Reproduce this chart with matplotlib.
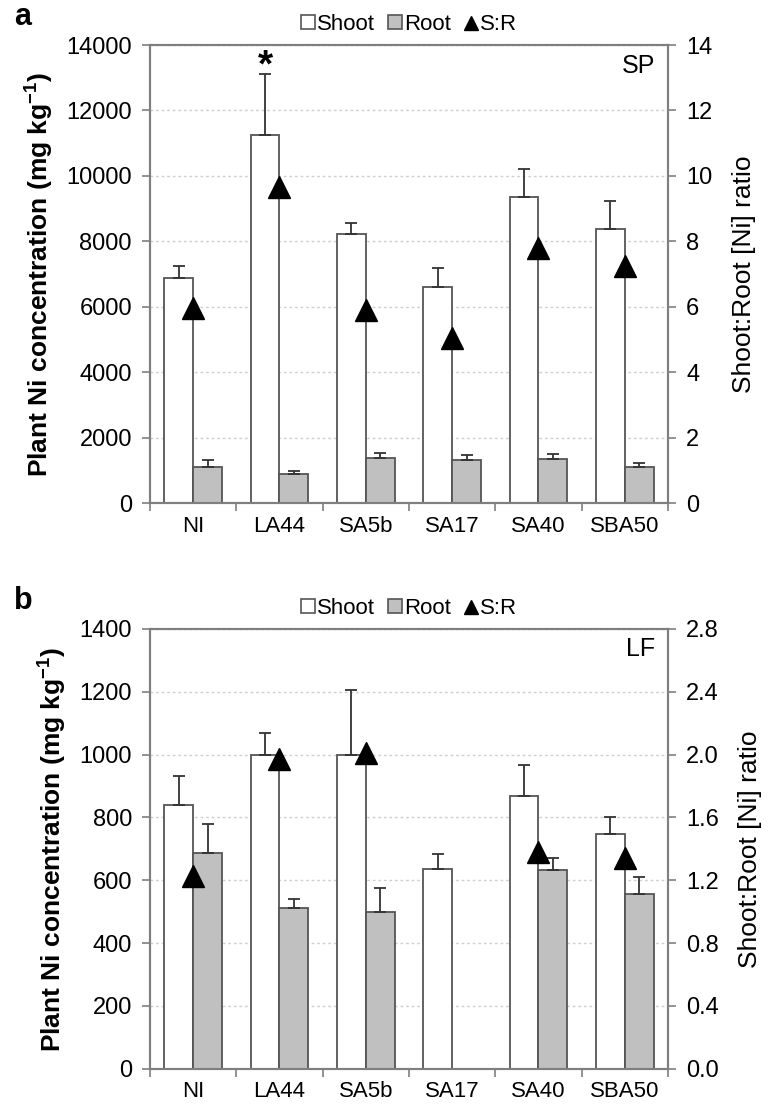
import numpy as np
import matplotlib
matplotlib.use('Agg')
from matplotlib import pyplot as plt
from matplotlib.patches import Patch
from matplotlib.lines import Line2D

plt.rcParams['font.family'] = ['Liberation Sans', 'DejaVu Sans']
plt.rcParams['mathtext.fontset'] = 'custom'
plt.rcParams['mathtext.rm'] = 'Liberation Sans'
plt.rcParams['mathtext.bf'] = 'Liberation Sans:bold'

categories = ['NI', 'LA44', 'SA5b', 'SA17', 'SA40', 'SBA50']

# panel a - SP
sp_shoot = [6890, 11240, 8210, 6600, 9360, 8390]
sp_shoot_err = [370, 1870, 360, 570, 865, 845]
sp_root = [1100, 875, 1385, 1310, 1355, 1090]
sp_root_err = [210, 100, 150, 145, 140, 120]
sp_ratio = [5.95, 9.65, 5.89, 5.04, 7.81, 7.24]

# panel b - LF (no root / ratio for SA17)
lf_shoot = [840, 998, 998, 636, 868, 747]
lf_shoot_err = [92, 71, 207, 48, 98, 53]
lf_root = [686, 511, 500, np.nan, 632, 557]
lf_root_err = [93, 29, 74, np.nan, 39, 52]
lf_ratio = [1.23, 1.97, 2.01, np.nan, 1.38, 1.34]

spine_c = '#7f7f7f'
edge_c = '#555555'
root_c = '#c0c0c0'
fs = 17

fig = plt.figure(figsize=(7.82, 11.07), dpi=100)

def panel(rect, shoot, shoot_err, root, root_err, ratio, ymax, ystep, rmax, rstep, rfmt, tag, letter, star=None):
    ax = fig.add_axes(rect)
    x = np.arange(len(categories))
    w = 0.335
    ax.bar(x - w/2, shoot, w, color='white', edgecolor=edge_c, linewidth=1.3, zorder=2)
    ax.bar(x + w/2, root, w, color=root_c, edgecolor=edge_c, linewidth=1.3, zorder=2)
    ax.errorbar(x - w/2, shoot, yerr=[np.zeros(len(shoot)), shoot_err], fmt='none',
                ecolor='#333333', elinewidth=1.3, capsize=4, capthick=1.3, zorder=3)
    ax.errorbar(x + w/2, root, yerr=[np.zeros(len(root)), root_err], fmt='none',
                ecolor='#333333', elinewidth=1.3, capsize=4, capthick=1.3, zorder=3)
    ax.set_xlim(-0.5, len(categories) - 0.5)
    ax.set_ylim(0, ymax)
    ax.set_yticks(np.arange(0, ymax + ystep/2, ystep))
    ax.yaxis.grid(True, linestyle=(0, (2, 2)), color='#d0d0d0', linewidth=1)
    ax.set_axisbelow(True)
    ax.set_xticks(x)
    ax.set_xticklabels(categories)
    ax.set_xticks(np.arange(-0.5, len(categories)), minor=True)
    ax.tick_params(axis='x', which='major', length=0, pad=9, labelsize=fs - 1)
    ax.tick_params(axis='x', which='minor', length=6, width=1.2, color=spine_c)
    ax.tick_params(axis='y', length=6, width=1.2, color=spine_c, labelsize=fs, pad=7)
    for s in ax.spines.values():
        s.set_color(spine_c)
        s.set_linewidth(1.5)
    ax.set_ylabel(r'Plant Ni concentration (mg kg$^{\mathbf{-1}}$)', fontsize=19,
                  fontweight='bold', labelpad=8)

    ax2 = ax.twinx()
    ax2.plot(x, ratio, linestyle='none', marker='^', markersize=16, color='black', zorder=4)
    ax2.set_ylim(0, rmax)
    ax2.set_yticks(np.arange(0, rmax + rstep/2, rstep))
    ax2.set_yticklabels([rfmt % v for v in np.arange(0, rmax + rstep/2, rstep)])
    ax2.tick_params(axis='y', length=6, width=1.2, color=spine_c, labelsize=fs, pad=7)
    for s in ax2.spines.values():
        s.set_color(spine_c)
        s.set_linewidth(1.5)
    ax2.set_ylabel('Shoot:Root [Ni] ratio', fontsize=19, labelpad=14)

    ax.text(0.975, 0.955, tag, transform=ax.transAxes, ha='right', va='center', fontsize=18)
    if star is not None:
        ax.text(star[0], star[1], '*', ha='center', va='center', fontsize=28, fontweight='bold')

    handles = [Patch(facecolor='white', edgecolor=edge_c, linewidth=1.2),
               Patch(facecolor=root_c, edgecolor=edge_c, linewidth=1.2),
               Line2D([], [], linestyle='none', marker='^', color='black', markersize=10)]
    ax.legend(handles, ['Shoot', 'Root', 'S:R'], loc='lower center', bbox_to_anchor=(0.5, 1.0),
              ncol=3, frameon=False, fontsize=16, handlelength=0.6, handleheight=0.6,
              handletextpad=0.1, columnspacing=0.6, borderaxespad=0.05)
    fig.text(0.018, rect[1] + rect[3] + 0.012, letter, fontsize=22, fontweight='bold',
             ha='left', va='bottom')
    return ax

panel([0.1918, 0.5456, 0.6624, 0.4137], sp_shoot, sp_shoot_err, sp_root, sp_root_err, sp_ratio,
      14000, 2000, 14, 2, '%d', 'SP', 'a', star=(1 - 0.335/2, 13350))
panel([0.1918, 0.0345, 0.6624, 0.3973], lf_shoot, lf_shoot_err, lf_root, lf_root_err, lf_ratio,
      1400, 200, 2.8, 0.4, '%.1f', 'LF', 'b')

fig.savefig('out.png', dpi=100)
